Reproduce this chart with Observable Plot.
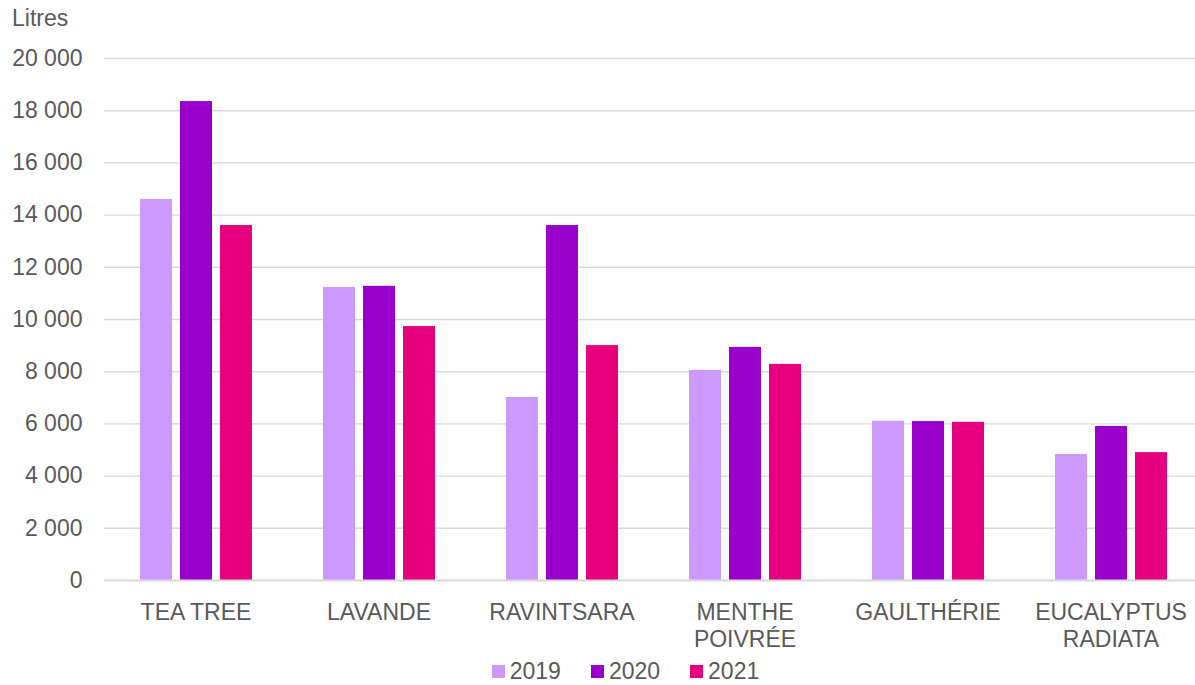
<!DOCTYPE html>
<html>
<head>
<meta charset="utf-8">
<script src="https://cdn.jsdelivr.net/npm/d3@7"></script>
<script src="https://cdn.jsdelivr.net/npm/@observablehq/plot@0.6"></script>
<style>
  html, body { margin: 0; padding: 0; background: #fff; overflow: hidden; }
  #wrap { position: relative; width: 1195px; height: 685px; font-family: "Liberation Sans", Arial, sans-serif; color: #595959; }
  #unit { position: absolute; left: 12px; top: 5px; font-size: 23px; }
  #chart { position: absolute; left: 0; top: 0; }
  #legend { position: absolute; left: 43px; top: 661px; width: 1195px; display: flex; justify-content: center; line-height: 20px; }
  #legend > div { min-height: 20px !important; line-height: 20px; }
  #legend span { margin-right: 30px !important; }
  #legend span svg { margin-right: 5px !important; }
</style>
</head>
<body>
<div id="wrap">
  <div id="chart"></div>
  <div id="unit">Litres</div>
  <div id="legend"></div>
</div>
<script>
const categories = ["TEA TREE", "LAVANDE", "RAVINTSARA", "MENTHE\nPOIVRÉE", "GAULTHÉRIE", "EUCALYPTUS\nRADIATA"];
const years = ["2019", "2020", "2021"];
const values2019 = [14600, 11230, 7010, 8050, 6100, 4830];
const values2020 = [18350, 11270, 13600, 8930, 6090, 5900];
const values2021 = [13600, 9730, 9000, 8280, 6060, 4900];
const yTicks = [0, 2000, 4000, 6000, 8000, 10000, 12000, 14000, 16000, 18000, 20000];
const colors = ["#cc99ff", "#9900cc", "#e6007e"];

const series = [values2019, values2020, values2021];
const data = [];
categories.forEach((c, i) => years.forEach((y, j) => data.push({category: c, year: y, value: series[j][i]})));

const fmt = d3.formatLocale({thousands: " ", grouping: [3], decimal: ","}).format(",");
const font = "Liberation Sans, Arial, sans-serif";

const chart = Plot.plot({
  width: 1204,
  height: 660,
  marginLeft: 102,
  marginRight: 0,
  marginTop: 58,
  marginBottom: 80,
  style: {fontFamily: font, fontSize: "23px", color: "#595959", maxWidth: "none", overflow: "visible", background: "transparent"},
  fx: {domain: categories, paddingInner: 0, paddingOuter: 0, label: null},
  x: {domain: years, paddingInner: 0.21, paddingOuter: 0.873, axis: null},
  y: {domain: [0, 20000], label: null},
  color: {domain: years, range: colors},
  marks: [
    Plot.ruleY(yTicks.filter(d => d > 0), {stroke: "#d9d9d9", strokeWidth: 1.4}),
    Plot.barY(data, {fx: "category", x: "year", y: "value", fill: "year"}),
    Plot.ruleY([0], {stroke: "#d9d9d9", strokeWidth: 2}),
    Plot.axisY({ticks: yTicks, tickFormat: fmt, tickSize: 0, tickPadding: 22, label: null, fill: "#595959", fontSize: 23}),
    Plot.axisFx({anchor: "bottom", tickSize: 0, tickPadding: 20, label: null, lineHeight: 1.19, fill: "#595959", fontSize: 23})
  ]
});
document.getElementById("chart").appendChild(chart);

const legend = Plot.legend({
  color: {domain: years, range: colors},
  legend: "swatches",
  swatchSize: 13,
  style: {fontFamily: font, fontSize: "23px", color: "#595959"}
});
document.getElementById("legend").appendChild(legend);
</script>
</body>
</html>
